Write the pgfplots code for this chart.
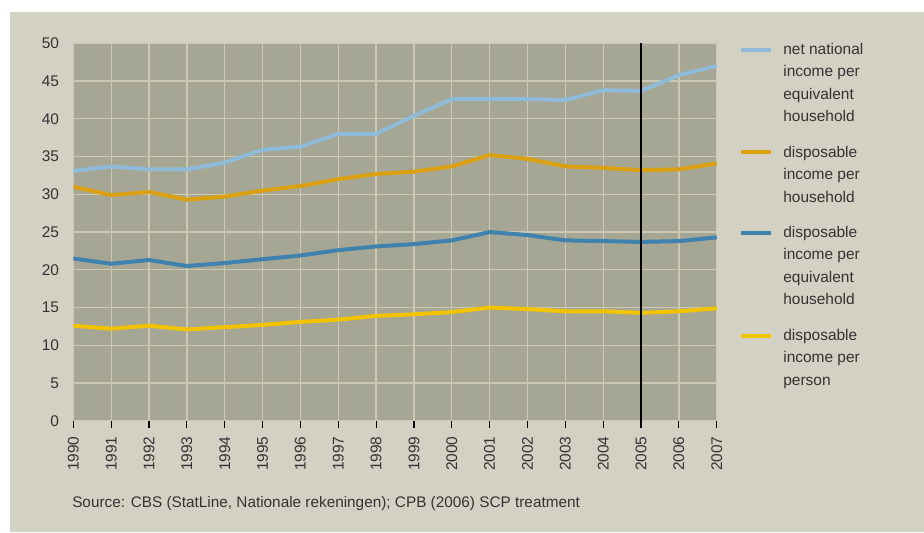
\documentclass[border=0pt]{standalone}
\usepackage{fontspec}
\setmainfont{Liberation Sans}
\usepackage{pgfplots}
\pgfplotsset{compat=1.18}
\definecolor{bgc}{HTML}{D3D1C3}
\definecolor{plotc}{HTML}{A6A694}
\definecolor{gridc}{HTML}{CCC8B3}
\definecolor{txt}{HTML}{333333}
\definecolor{lblue}{HTML}{8FBBD9}
\definecolor{orng}{HTML}{DBA012}
\definecolor{dblue}{HTML}{3F82AE}
\definecolor{yell}{HTML}{F2C300}
\newcommand{\legtxt}[1]{\parbox[t]{90pt}{\strut#1\strut}}
\pgfplotstableread{
year nni dih dieh dip
1990 33.1 31.0 21.5 12.6
1991 33.7 29.9 20.8 12.2
1992 33.3 30.3 21.3 12.6
1993 33.3 29.3 20.5 12.1
1994 34.2 29.7 20.9 12.4
1995 35.9 30.5 21.4 12.7
1996 36.3 31.1 21.9 13.1
1997 38.0 32.0 22.6 13.4
1998 38.0 32.7 23.1 13.9
1999 40.4 33.0 23.4 14.1
2000 42.6 33.7 23.9 14.4
2001 42.6 35.2 25.0 15.0
2002 42.6 34.7 24.6 14.8
2003 42.5 33.7 23.9 14.5
2004 43.8 33.5 23.8 14.5
2005 43.7 33.2 23.7 14.3
2006 45.8 33.3 23.8 14.5
2007 47.0 34.1 24.3 14.9
}\datatable
\begin{document}
\begin{tikzpicture}[x=0.75pt,y=0.75pt]
\path[use as bounding box] (0,0) rectangle (924,532);
\fill[white] (0,0) rectangle (924,532);
\fill[bgc] (10,0) rectangle (924,520);
\begin{axis}[
  at={(55pt,83.4pt)}, anchor=south west,
  scale only axis, width=482.6pt, height=283.1pt,
  xmin=1990, xmax=2007, ymin=0, ymax=50,
  xtick={1990,...,2007}, ytick={0,5,...,50},
  /pgf/number format/assume math mode=true,
  x tick label style={/pgf/number format/1000 sep={}},
  xticklabel style={yshift=-3pt, rotate=90, anchor=east, font=\fontsize{11.6}{14}\selectfont, text=txt},
  yticklabel style={font=\fontsize{11.6}{14}\selectfont, text=txt, xshift=-2pt},
  grid=major, major grid style={draw=gridc, line width=1pt},
  axis background/.style={fill=plotc},
  x axis line style={black, line width=0.9pt},
  y axis line style={draw=none},
  xtick pos=bottom,
  ytick style={draw=none},
  xtick style={black, line width=0.9pt},
  tick align=outside, major tick length=5.25pt,
  legend style={at={(1,1)}, anchor=north west, xshift=16.7pt, yshift=3.8pt,
    draw=none, fill=none, inner sep=0pt, row sep=9.5pt, column sep=7.5pt,
    font=\fontsize{11.6}{16.9}\selectfont, text=txt,
    nodes={inner sep=0pt, text depth=}, cells={anchor=base west}},
  legend image code/.code={\draw[#1,line width=3pt] (0pt,3.5pt) -- (22.5pt,3.5pt);},
]
\addplot[lblue, line width=3pt] table[x=year,y=nni] {\datatable};
\addlegendentry{\legtxt{net national\\income per\\equivalent\\household}}
\addplot[orng, line width=3pt] table[x=year,y=dih] {\datatable};
\addlegendentry{\legtxt{disposable\\income per\\household}}
\addplot[dblue, line width=3pt] table[x=year,y=dieh] {\datatable};
\addlegendentry{\legtxt{disposable\\income per\\equivalent\\household}}
\addplot[yell, line width=3pt] table[x=year,y=dip] {\datatable};
\addlegendentry{\legtxt{disposable\\income per\\person}}
\addplot[black, line width=1pt, forget plot] coordinates {(2005,0) (2005,50)};
\end{axis}
\node[anchor=base west, font=\fontsize{11.5}{14}\selectfont, text=txt, inner sep=0pt] at (72,25) {Source: CBS (StatLine, Nationale rekeningen); CPB (2006) SCP treatment};
\end{tikzpicture}
\end{document}
